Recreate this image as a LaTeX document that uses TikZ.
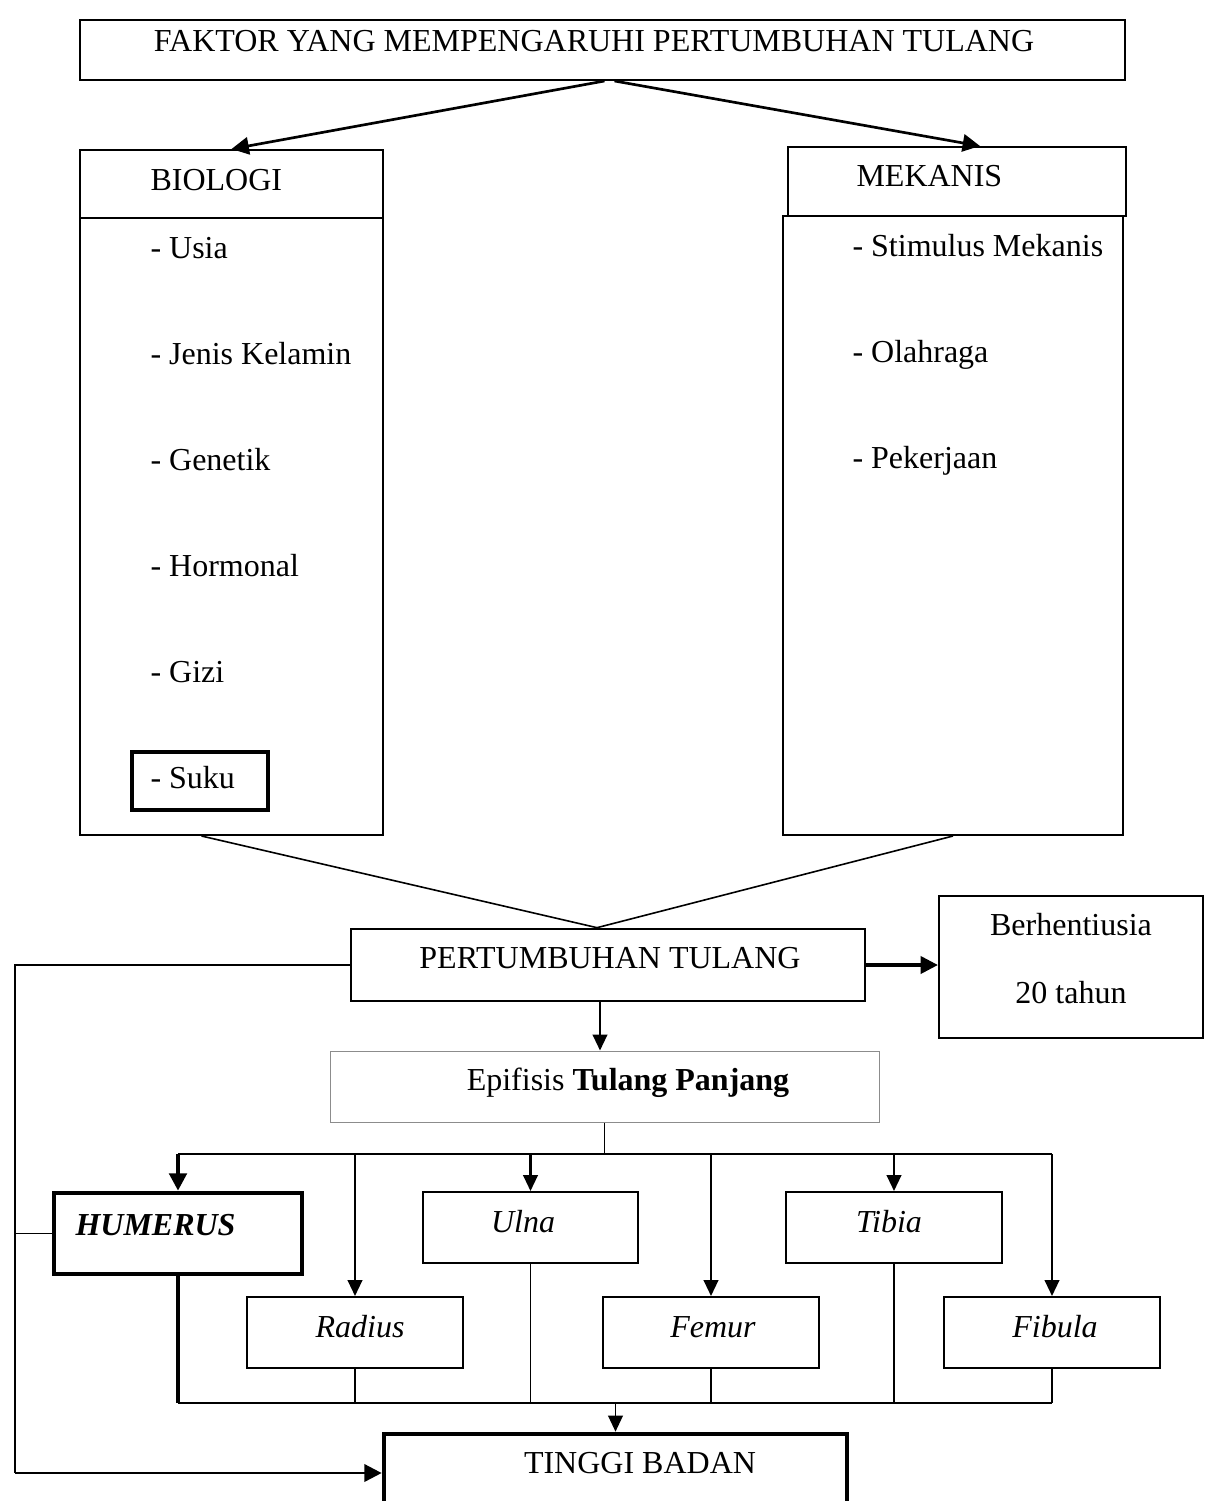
\documentclass[tikz,border=0pt]{standalone}
\usepackage{fontspec}
\setmainfont{Liberation Serif}
\usetikzlibrary{arrows.meta,fit,calc,positioning}

\tikzset{every picture/.style={line width=0.75pt}}
\tikzset{
  box/.style={draw, rectangle, inner sep=0pt, line width=1.5pt},
  greybox/.style={draw=black!45, rectangle, inner sep=0pt, line width=0.75pt},
  heavybox/.style={draw, rectangle, inner sep=0pt, line width=3.5pt},
  txt/.style={inner sep=0pt, font=\fontsize{24}{28}\selectfont},
  link/.style={line width=2pt, -{Triangle[length=13pt,width=13pt]}},
  thinlink/.style={line width=1.6pt, -{Triangle[length=12pt,width=11pt]}},
}

\begin{document}
\begin{tikzpicture}[x=0.75pt,y=0.75pt,yscale=-1,xscale=1]
\useasboundingbox (0,0) rectangle (1205,1501);

%Boxes
\node[box, fit={(80,20) (1125,80)}] (faktor) {};
\node[box, fit={(80,150) (383,218)}] (biologiH) {};
\node[box, fit={(80,218) (383,835)}] (biologiL) {};
\node[box, fit={(788,147) (1126,216)}] (mekanisH) {};
\node[box, fit={(783,216) (1123,835)}] (mekanisL) {};
\node[heavybox, line width=3pt, fit={(132,752) (268,810)}] (sukuBox) {};
\node[box, line width=2pt, fit={(351,929) (865,1001)}] (pertumbuhan) {};
\node[box, line width=1.7pt, fit={(939,896) (1203,1038)}] (berhenti) {};
\node[greybox, fit={(330,1051) (879,1122)}] (epifisis) {};
\node[heavybox, fit={(54,1193) (302,1274)}] (humerus) {};
\node[box, fit={(423,1192) (638,1263)}] (ulna) {};
\node[box, fit={(786,1192) (1002,1263)}] (tibia) {};
\node[box, fit={(247,1297) (463,1368)}] (radius) {};
\node[box, fit={(603,1297) (819,1368)}] (femur) {};
\node[box, fit={(944,1297) (1160,1368)}] (fibula) {};
\node[heavybox, fit={(384,1434) (847,1512)}] (tinggi) {};

%Texts
\node[txt, anchor=base] (faktorT) at (594,52) {FAKTOR YANG MEMPENGARUHI PERTUMBUHAN TULANG};
\node[txt, anchor=base west] (biologiT) at (150,191) {BIOLOGI};
\node[txt, anchor=base west] (mekanisT) at (856,187) {MEKANIS};
\foreach \t [count=\i from 0] in {Usia,Jenis Kelamin,Genetik,Hormonal,Gizi,Suku}
  \node[txt, anchor=base west] (bio\i) at (150,259+\i*105.8) {- \t};
\foreach \t [count=\i from 0] in {Stimulus Mekanis,Olahraga,Pekerjaan}
  \node[txt, anchor=base west] (mek\i) at (852,257+\i*105.5) {- \t};
\node[txt, anchor=base] (pertumbuhanT) at (610,968) {PERTUMBUHAN TULANG};
\node[txt, anchor=base] (berhentiT1) at (1071,935) {Berhentiusia};
\node[txt, anchor=base] (berhentiT2) at (1071,1003) {20 tahun};
\node[txt, anchor=base] (epifisisT) at (628,1090) {Epifisis \textbf{Tulang Panjang}};
\node[txt, anchor=base west] (humerusT) at (75,1235) {\textbf{\textit{HUMERUS}}};
\node[txt, anchor=base] (ulnaT) at (523,1232) {\textit{Ulna}};
\node[txt, anchor=base] (tibiaT) at (889,1232) {\textit{Tibia}};
\node[txt, anchor=base] (radiusT) at (360,1337) {\textit{Radius}};
\node[txt, anchor=base] (femurT) at (713,1337) {\textit{Femur}};
\node[txt, anchor=base] (fibulaT) at (1055,1337) {\textit{Fibula}};
\node[txt, anchor=base] (tinggiT) at (640,1473) {TINGGI BADAN};

%Helper coordinates
\coordinate (leftX) at (15,0);
\coordinate (topBar) at (0,1154);
\coordinate (lowBar) at (0,1403);
\coordinate (pDown) at ($(pertumbuhan.south)+(-8,0)$);
\coordinate (meet) at ($(pertumbuhan.north)+(-11,0)$);

%Connectors
\draw[link] ($(faktor.south)+(2,0)$) -- (biologiH.north);
\draw[link] ($(faktor.south)+(12,0)$) -- ($(mekanisH.north)+(23,0)$);
\draw[line width=1.2pt] ($(biologiL.south)+(-30,0)$) -- (meet);
\draw[line width=1.2pt] (mekanisL.south) -- (meet);
\draw[link, line width=2.4pt] (pertumbuhan.east) -- (pertumbuhan.east -| berhenti.west);
\draw[thinlink] (pDown) -- (pDown |- epifisis.north);
\draw[line width=0.6pt] (epifisis.south) -- (epifisis.south |- topBar);
\draw[line width=2.2pt] (humerus.north |- topBar) -- (fibula.north |- topBar);
\draw[link, line width=3pt] (humerus.north |- topBar) -- (humerus.north);
\foreach \b in {radius,ulna,femur,tibia,fibula}
  \draw[thinlink] (\b.north |- topBar) -- (\b.north);
\draw[line width=3pt] (humerus.south) -- (humerus.south |- lowBar);
\draw[line width=2.2pt] (humerus.south |- lowBar) -- (fibula.south |- lowBar);
\foreach \b in {radius,ulna,femur,tibia,fibula}
  \draw[line width=0.9pt] (\b.south) -- (\b.south |- lowBar);
\draw[thinlink, line width=1.2pt] (tinggi.north |- lowBar) -- (tinggi.north);
\draw[line width=0.8pt] (pertumbuhan.west) -- (pertumbuhan.west -| leftX) -- (leftX |- tinggi.west);
\draw[line width=0.8pt] (humerus.west) -- (humerus.west -| leftX);
\draw[link] (leftX |- tinggi.west) -- (tinggi.west);

\end{tikzpicture}
\end{document}
